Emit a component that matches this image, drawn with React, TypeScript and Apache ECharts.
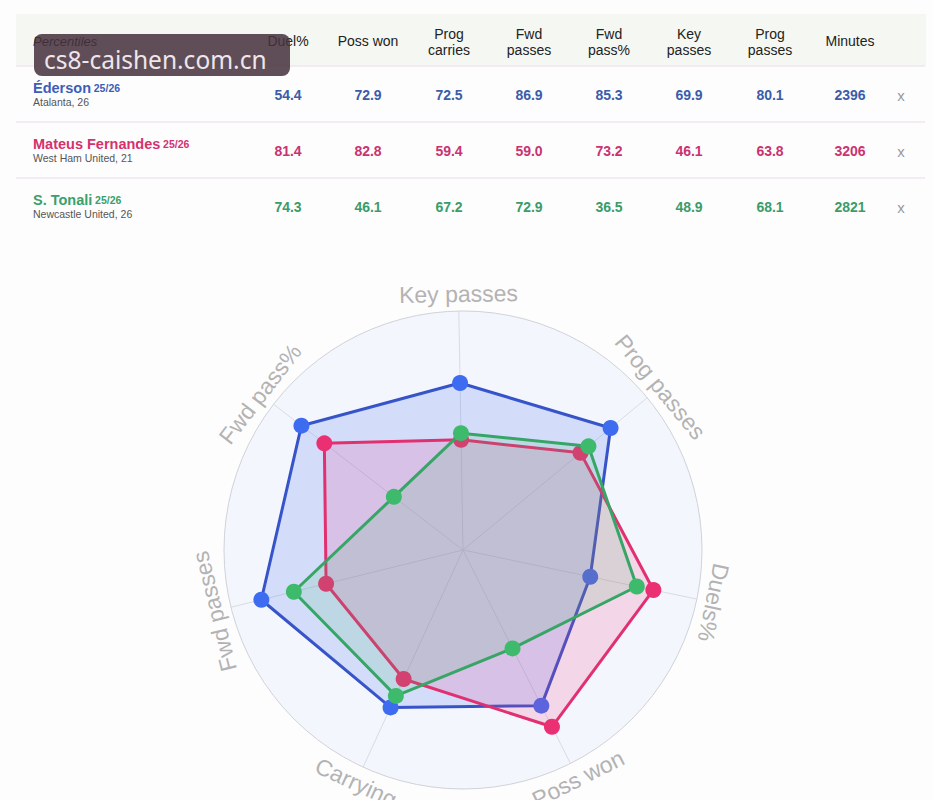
import React, { useEffect, useRef } from 'react';
import * as echarts from 'echarts';

// ---- data ----
const headerLines: string[][] = [
  ['Duel%'], ['Poss won'], ['Prog', 'carries'], ['Fwd', 'passes'],
  ['Fwd', 'pass%'], ['Key', 'passes'], ['Prog', 'passes'], ['Minutes'],
];
const players = ['Éderson', 'Mateus Fernandes', 'S. Tonali'];
const seasons = ['25/26', '25/26', '25/26'];
const clubs = ['Atalanta, 26', 'West Ham United, 21', 'Newcastle United, 26'];
// columns: Duel%, Poss won, Prog carries, Fwd passes, Fwd pass%, Key passes, Prog passes
const edersonValues = [54.4, 72.9, 72.5, 86.9, 85.3, 69.9, 80.1];
const mateusValues = [81.4, 82.8, 59.4, 59.0, 73.2, 46.1, 63.8];
const tonaliValues = [74.3, 46.1, 67.2, 72.9, 36.5, 48.9, 68.1];
const minutes = [2396, 3206, 2821];
// radar axes, counter-clockwise from the top
const radarNames = ['Key passes', 'Fwd pass%', 'Fwd passes', 'Carrying', 'Poss won', 'Duels%', 'Prog passes'];
const radarColumnIndex = [5, 4, 3, 2, 1, 0, 6];

// ---- styles ----
const lineColors = ['#3651c6', '#e0306f', '#37a466'];
const pointColors = ['#3e6cf0', '#ea2f72', '#3dba6c'];
const areaColors = ['rgba(70,115,240,0.27)', 'rgba(236,58,128,0.24)', 'rgba(61,186,108,0.2)'];
const tableColors = ['#3b5ca9', '#c93370', '#3a9c69'];
const nameColors = ['#3c5eb8', '#d3326f', '#3aa06b'];

const FONT = "'Liberation Sans', Arial, Helvetica, sans-serif";
const colX = [288, 368, 449, 529, 609, 689, 770, 850];
const rowY = [95, 151, 207];
const CX = 463, CY = 550, RADIUS = 239, START = 91, LABEL_R = 256;

function txt(text: string, x: number, y: number, o: any = {}) {
  return {
    type: 'text', x, y, rotation: o.rotation || 0, silent: true, z: o.z || 10,
    style: {
      text, x: 0, y: 0,
      fill: o.fill || '#222',
      fontSize: o.fontSize || 14,
      fontWeight: o.fontWeight || 'normal',
      fontStyle: o.fontStyle || 'normal',
      fontFamily: o.fontFamily || FONT,
      align: o.align || 'center', verticalAlign: o.va || 'middle',
      textAlign: o.align || 'center', textVerticalAlign: o.va || 'middle',
      rich: o.rich,
    },
  };
}

export default function App() {
  const ref = useRef<HTMLDivElement>(null);
  useEffect(() => {
    const chart = echarts.init(ref.current!, null, { renderer: 'svg' });
    const playerValues = [edersonValues, mateusValues, tonaliValues];
    const radarData = playerValues.map((v) => radarColumnIndex.map((i) => v[i]));

    const graphics: any[] = [];
    // table header band
    graphics.push({ type: 'rect', shape: { x: 16, y: 14, width: 910, height: 52 }, style: { fill: '#f4f7f2' }, silent: true, z: 1 });
    [66, 122, 178].forEach((y) => {
      graphics.push({ type: 'line', shape: { x1: 16, y1: y, x2: 925, y2: y }, style: { stroke: '#f1e6ef', lineWidth: 1.5 }, silent: true, z: 2 });
    });
    graphics.push(txt('Percentiles', 33, 41, { align: 'left', fontStyle: 'italic', fontSize: 13 }));
    headerLines.forEach((lines, c) => {
      if (lines.length === 1) graphics.push(txt(lines[0], colX[c], 41, { fontSize: 14 }));
      else lines.forEach((l, k) => graphics.push(txt(l, colX[c], 34 + k * 16, { fontSize: 14 })));
    });
    players.forEach((p, r) => {
      const y = rowY[r];
      graphics.push(txt(`{n|${p}} {s|${seasons[r]}}`, 33, y - 7, {
        align: 'left', fill: nameColors[r], fontSize: 10,
        rich: {
          n: { fontSize: 14.5, fontWeight: 'bold', fill: nameColors[r], fontFamily: FONT, lineHeight: 15 },
          s: { fontSize: 10.5, fontWeight: 'bold', fill: nameColors[r], fontFamily: FONT, lineHeight: 15 },
        },
      }));
      graphics.push(txt(clubs[r], 33, y + 6.5, { align: 'left', fontSize: 10.5, fill: '#555' }));
      playerValues[r].forEach((v, c) => {
        graphics.push(txt(v.toFixed(1), colX[c], y, { fontWeight: 'bold', fontSize: 14, fill: tableColors[r] }));
      });
      graphics.push(txt(String(minutes[r]), colX[7], y, { fontWeight: 'bold', fontSize: 14, fill: tableColors[r] }));
      graphics.push(txt('x', 901, y, { fontSize: 15, fill: '#999' }));
    });
    // radar axis names, rotated along the circle
    radarNames.forEach((name, i) => {
      const a = START + (i * 360) / radarNames.length;
      const rad = (a * Math.PI) / 180;
      const x = CX + LABEL_R * Math.cos(rad);
      const y = CY - LABEL_R * Math.sin(rad);
      const rotDeg = Math.sin(rad) < -0.5 ? a + 90 : a - 90;
      graphics.push(txt(name, x, y, { rotation: (rotDeg * Math.PI) / 180, fontSize: 23, fill: '#b3b3b3' }));
    });
    // watermark
    graphics.push({ type: 'rect', shape: { x: 34, y: 34, width: 256, height: 42, r: 8 }, style: { fill: 'rgba(70,50,62,0.86)' }, silent: true, z: 50 });
    graphics.push(txt('cs8-caishen.com.cn', 44, 59, { align: 'left', fontSize: 24.5, fill: '#eee6ec', fontFamily: "'Noto Sans', sans-serif", z: 51 }));

    const option: any = {
      animation: false,
      backgroundColor: '#fefdfe',
      radar: {
        center: [CX, CY],
        radius: RADIUS,
        startAngle: START,
        shape: 'circle',
        splitNumber: 1,
        indicator: radarNames.map((n) => ({ name: n, min: 0, max: 100 })),
        axisName: { show: false },
        axisLine: { lineStyle: { color: '#d9dce2', width: 1 } },
        splitLine: { lineStyle: { color: '#cfd2d8', width: 1 } },
        splitArea: { show: true, areaStyle: { color: ['#f4f6fd'] } },
      },
      series: radarData.map((vals, k) => ({
        type: 'radar',
        name: players[k],
        symbol: 'circle',
        symbolSize: 16,
        z: 2 + k,
        data: [{
          value: vals,
          name: players[k],
          lineStyle: { color: lineColors[k], width: 3 },
          itemStyle: { color: pointColors[k] },
          areaStyle: { color: areaColors[k] },
        }],
      })),
      graphic: { elements: graphics },
    };
    chart.setOption(option);
    return () => chart.dispose();
  }, []);
  return <div ref={ref} style={{ position: 'absolute', left: 0, top: 0, width: 933, height: 800 }} />;
}
